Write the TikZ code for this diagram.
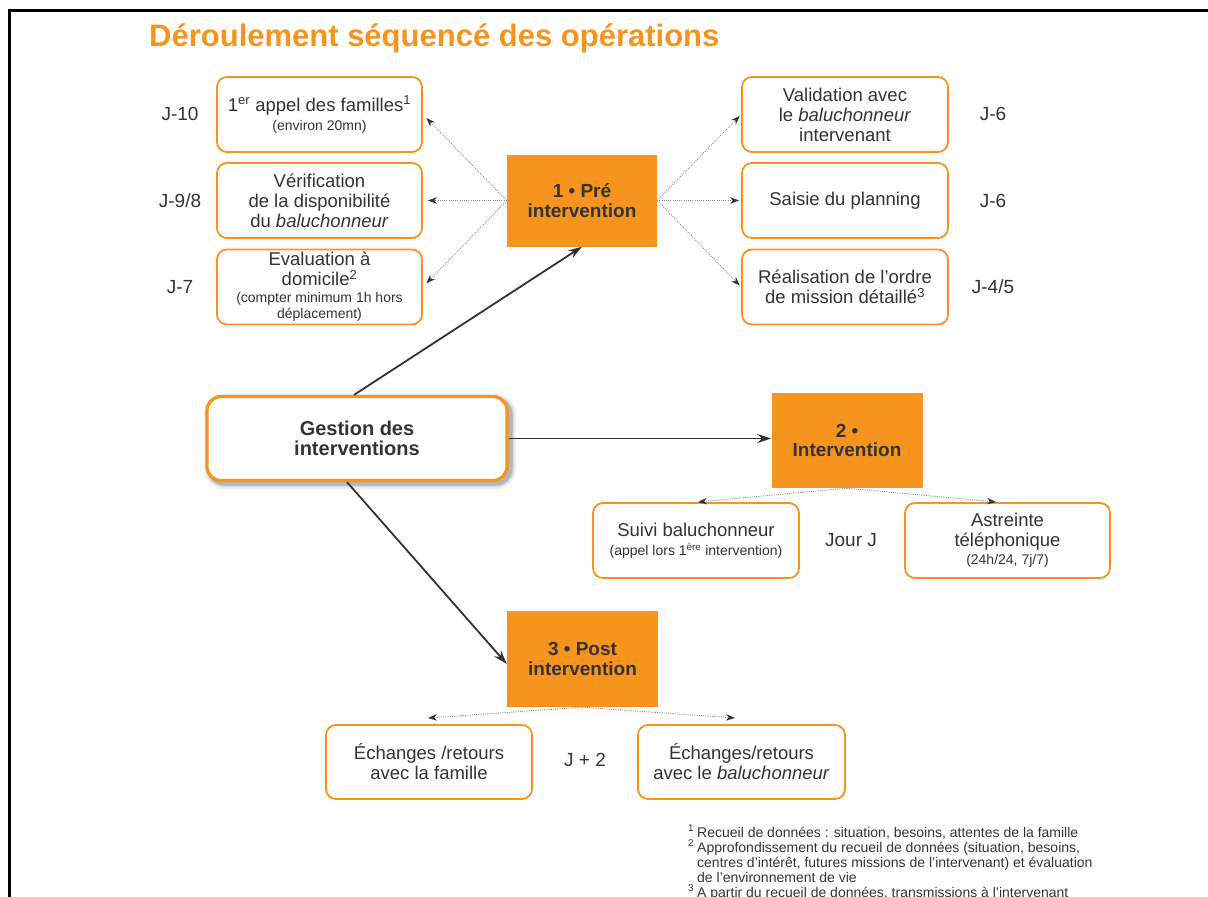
\documentclass[tikz,border=0pt]{standalone}
\usepackage{fontspec}
\setmainfont{Liberation Sans}
\usetikzlibrary{arrows.meta,calc}
\definecolor{org}{HTML}{F7941D}
\definecolor{txt}{HTML}{333333}
\definecolor{dotc}{HTML}{8A8A8A}
\newcommand\smtxt{\fontsize{14}{15}\selectfont}
\begin{document}
\begin{tikzpicture}[x=1pt,y=-1pt,
  box/.style={draw=org, line width=1.8pt, rounded corners=10pt, fill=white,
    minimum width=#1, minimum height=75pt, align=center, text=txt, inner sep=2pt,
    font=\fontsize{18.5}{20}\selectfont},
  box/.default=205pt,
  phase/.style={fill=org, draw=none, minimum width=150pt, minimum height=92pt,
    align=center, text=txt, font=\bfseries\fontsize{19}{19.5}\selectfont},
  jlab/.style={text=txt, font=\fontsize{19}{20}\selectfont, inner sep=0pt},
  dotarr/.style={draw=dotc, line width=0.85pt, dash pattern=on 1pt off 1.2pt,
    -{Stealth[length=9pt,width=6.5pt,color=txt]}},
  solarr/.style={draw=txt, line width=1.8pt, -{Stealth[length=14pt,width=9pt,color=txt]}}
]
\useasboundingbox (0,0) rectangle (1208,897);
\clip (0,0) rectangle (1208,897);
% frame
\draw[line width=3pt, black] (1208,10) -- (9,10) -- (9,897);
% title
\node[anchor=base west, inner sep=0pt, text=org, font=\bfseries\fontsize{31}{33}\selectfont] (title) at (149,46) {Déroulement séquencé des opérations};

% left boxes
\node[box] (b1) at (319.5,114.5) {1\textsuperscript{er} appel des familles\textsuperscript{1}\\[-1pt]{\smtxt (environ 20mn)}};
\node[box] (b2) at (319.5,200.5) {Vérification\\de la disponibilité\\du \textit{baluchonneur}};
\node[box] (b3) at (319.5,287) {Evaluation à\\domicile\textsuperscript{2}\\[-3pt]{\smtxt (compter minimum 1h hors}\\[-4pt]{\smtxt déplacement)}};
\node[jlab] (j1) at (180,114) {J-10};
\node[jlab] (j2) at (180,201) {J-9/8};
\node[jlab] (j3) at (180,287) {J-7};

% right boxes
\node[box=206pt] (r1) at (845,114.5) {Validation avec\\le \textit{baluchonneur}\\intervenant};
\node[box=206pt] (r2) at (845,200.5) {Saisie du planning};
\node[box=206pt] (r3) at (845,287) {Réalisation de l'ordre\\de mission détaillé\textsuperscript{3}};
\node[jlab] (j4) at (993,114) {J-6};
\node[jlab] (j5) at (993,201) {J-6};
\node[jlab] (j6) at (993,287) {J-4/5};

% phases
\node[phase] (pre) at (582,200.5) {1 • Pré\\intervention};
\node[phase, minimum width=151pt, minimum height=95pt] (interv) at (847,440.5) {2 •\\Intervention};
\node[phase, minimum width=151pt, minimum height=96pt] (post) at (582.5,659) {3 • Post\\intervention};

% gestion shadow + box
\foreach \w/\o in {12/0.06, 8/0.10, 5/0.16} {
  \draw[line width=\w pt, black, opacity=\o, rounded corners=14pt] (210,400) rectangle (510,483);
}
\node[draw=org, line width=3.2pt, rounded corners=14pt, fill=white, minimum width=300pt,
  minimum height=84pt, align=center, text=txt, font=\bfseries\fontsize{20}{20}\selectfont]
  (gest) at (357,438.5) {Gestion des\\interventions};

% intervention children
\node[box=206pt] (suivi) at (696,540.5) {Suivi baluchonneur\\[-1pt]{\smtxt (appel lors 1\textsuperscript{ère} intervention)}};
\node[box] (astr) at (1007.5,540.5) {Astreinte\\téléphonique\\[-2pt]{\smtxt (24h/24, 7j/7)}};
\node[jlab] (jj) at (851,540) {Jour J};

% post children
\node[box=206pt, minimum height=74pt] (ech1) at (429,762) {Échanges /retours\\avec la famille};
\node[box=207pt, minimum height=74pt] (ech2) at (741.5,762) {Échanges/retours\\avec le \textit{baluchonneur}};
\node[jlab] (j2p) at (585,760) {J + 2};

% footnotes
\node[anchor=north west, inner sep=0pt, align=left, text=txt, font=\fontsize{14}{15}\selectfont] (fn) at (688,825)
{\makebox[9pt][l]{\textsuperscript{1}}Recueil de données : situation, besoins, attentes de la famille\\
 \makebox[9pt][l]{\textsuperscript{2}}Approfondissement du recueil de données (situation, besoins,\\
 \makebox[9pt][l]{}centres d’intérêt, futures missions de l’intervenant) et évaluation\\
 \makebox[9pt][l]{}de l’environnement de vie\\
 \makebox[9pt][l]{\textsuperscript{3}}A partir du recueil de données, transmissions à l’intervenant};

% dotted connectors
\draw[dotarr, shorten >=5pt] (pre.west) -- (b1.east);
\draw[dotarr, shorten >=5pt] (pre.west) -- (b2.east);
\draw[dotarr, shorten >=5pt] (pre.west) -- (b3.east);
\draw[dotarr, shorten >=2pt] (pre.east) -- (r1.west);
\draw[dotarr, shorten >=2pt] (pre.east) -- (r2.west);
\draw[dotarr, shorten >=2pt] (pre.east) -- (r3.west);
\coordinate (si) at (698,502);
\coordinate (ai) at (996,502);
\draw[dotarr] (interv.south) -- (si);
\draw[dotarr] (interv.south) -- (ai);
\coordinate (pe1) at (428,718);
\coordinate (pe2) at (735,718);
\draw[dotarr] (post.south) -- (pe1);
\draw[dotarr] (post.south) -- (pe2);

% solid connectors
\draw[solarr] ([xshift=-3pt]gest.north) -- (pre.south);
\draw[solarr] (gest.east) -- (gest.east -| interv.west);
\draw[solarr] ([xshift=-10pt]gest.south) -- ([yshift=-5pt]post.west);
\end{tikzpicture}
\end{document}
